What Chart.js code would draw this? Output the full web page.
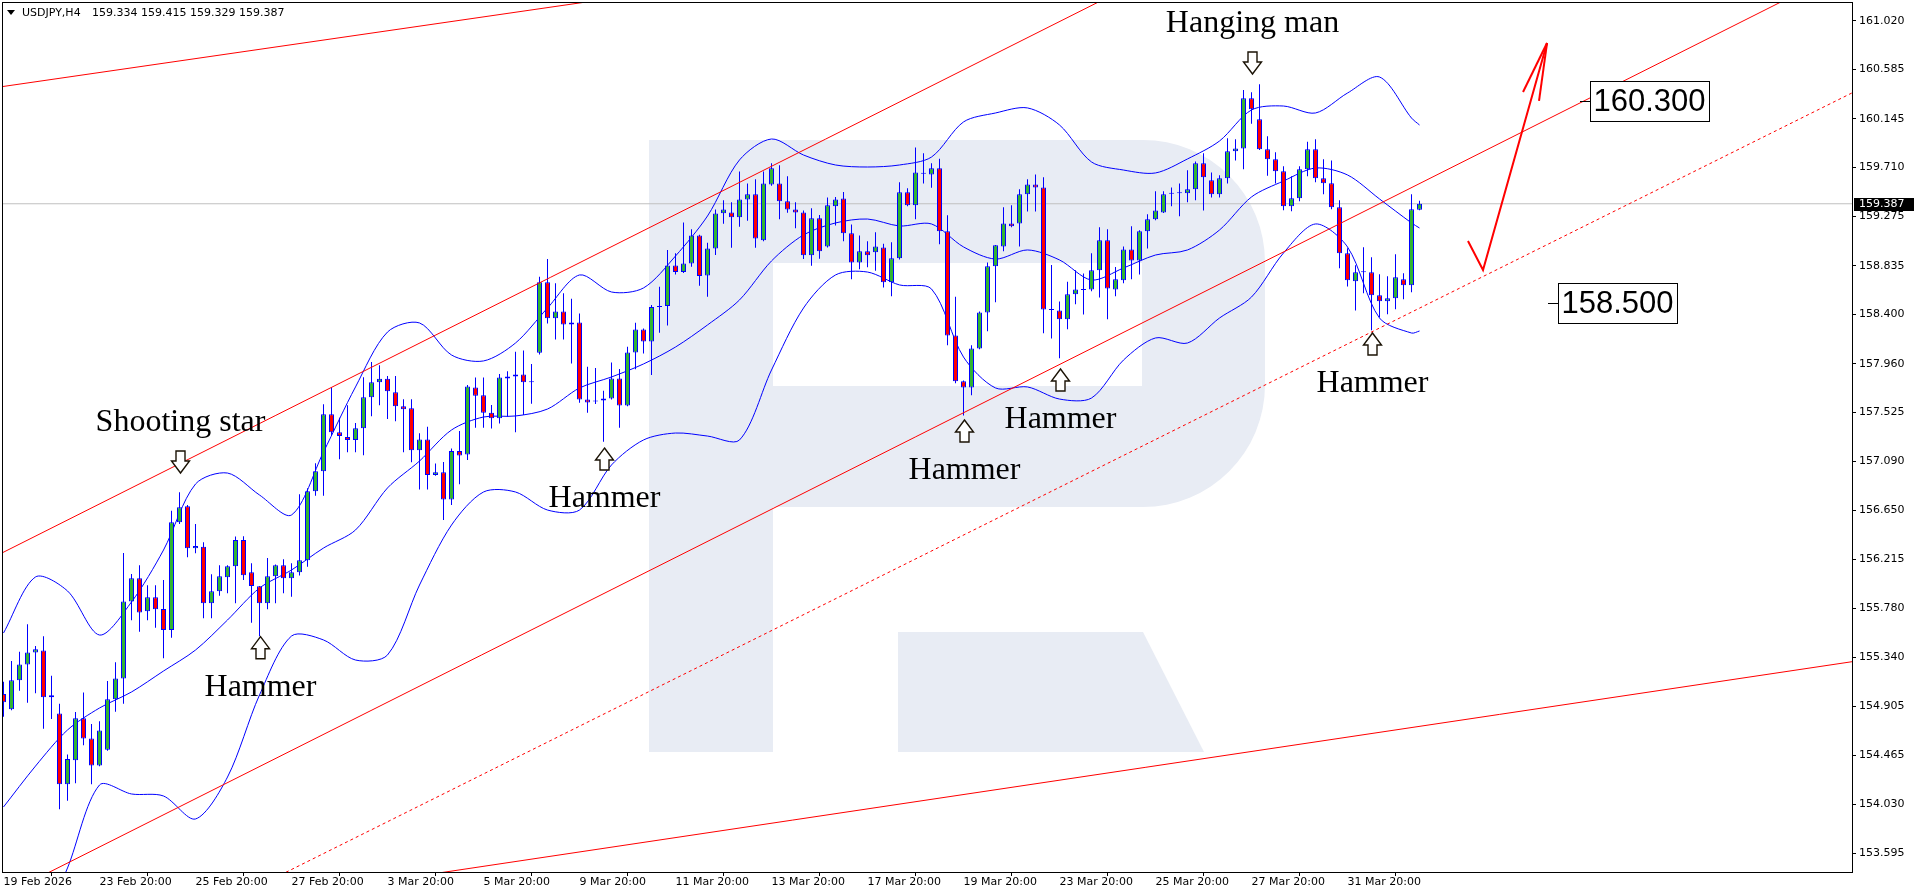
<!DOCTYPE html>
<html>
<head>
<meta charset="utf-8">
<script src="https://cdn.jsdelivr.net/npm/chart.js@4.4.1/dist/chart.umd.min.js"></script>
<style>
  html, body { margin: 0; padding: 0; background: #fff; overflow: hidden; }
  canvas { display: block; }
</style>
</head>
<body>
<canvas id="chart" width="1916" height="896"></canvas>
<script>
// USDJPY H4 candles, Bollinger bands and the hand-drawn channel
const symbol = 'USDJPY,H4';

const opens = [
  155.014,154.877,155.136,155.278,155.385,155.403,154.984,154.841,154.208,154.422,
  154.797,154.618,154.377,154.517,154.966,155.153,155.840,156.046,155.751,155.876,
  155.772,155.585,156.545,156.688,156.313,156.328,155.823,155.930,156.055,156.153,
  156.388,156.099,155.975,155.823,156.064,156.162,156.046,156.099,156.206,156.822,
  157.000,157.509,157.348,157.307,157.280,157.384,157.661,157.794,157.827,157.705,
  157.580,157.563,157.188,157.285,156.967,156.991,156.750,157.181,157.151,157.749,
  157.678,157.523,157.473,157.829,157.847,157.865,157.794,158.058,158.686,158.365,
  158.427,158.311,158.329,157.642,157.624,157.633,157.651,157.829,157.588,158.061,
  158.266,158.159,158.466,158.475,158.837,158.778,158.855,159.105,158.748,158.989,
  159.302,159.310,159.266,159.426,159.471,159.061,159.560,159.569,159.409,159.337,
  159.310,158.927,159.257,159.007,159.364,159.435,159.123,158.864,158.963,158.954,
  158.998,158.686,158.900,159.489,159.373,159.655,159.649,159.703,159.141,158.213,
  157.803,157.749,158.097,158.418,158.829,159.007,159.212,159.212,159.471,159.560,
  159.533,158.445,158.436,158.356,158.579,158.617,158.623,158.793,159.061,158.623,
  158.704,158.980,158.882,159.141,159.248,159.310,159.477,159.480,159.480,159.516,
  159.748,159.596,159.471,159.614,159.855,159.881,160.328,160.141,159.873,159.784,
  159.677,159.364,159.436,159.695,159.873,159.614,159.570,159.356,158.945,158.695,
  158.776,158.776,158.570,158.517,158.544,158.713,158.660,159.334
];
const highs = [
  155.124,155.308,155.391,155.635,155.442,155.528,155.177,154.927,154.475,154.853,
  155.028,154.746,154.770,155.130,155.296,156.272,156.084,156.162,155.983,155.983,
  156.031,156.649,156.813,156.700,156.531,156.367,156.082,156.162,156.162,156.418,
  156.421,156.180,155.977,156.227,156.170,156.215,156.180,156.795,156.849,157.072,
  157.598,157.750,157.479,157.589,157.432,157.839,157.976,157.946,157.851,157.851,
  157.643,157.643,157.339,157.398,157.071,157.083,157.205,157.359,157.770,157.838,
  157.838,157.591,157.868,157.892,158.067,158.079,157.957,158.736,158.894,158.677,
  158.588,158.540,158.409,157.933,157.922,157.719,157.972,157.913,158.112,158.326,
  158.275,158.484,158.647,158.974,158.945,159.221,159.159,159.110,159.040,159.337,
  159.418,159.400,159.676,159.569,159.605,159.676,159.748,159.730,159.632,159.400,
  159.328,159.346,159.287,159.444,159.447,159.492,159.203,159.105,159.052,159.132,
  159.031,159.043,159.578,159.525,159.890,159.837,159.748,159.789,159.284,158.558,
  157.810,158.124,158.425,158.864,159.020,159.355,159.373,159.516,159.605,159.649,
  159.623,158.841,158.516,158.692,158.793,158.766,158.945,159.177,159.159,158.823,
  159.007,159.186,159.150,159.293,159.498,159.498,159.533,159.569,159.685,159.765,
  159.837,159.667,159.641,159.971,159.962,160.402,160.382,160.453,159.989,159.846,
  159.721,159.632,159.721,159.941,159.962,159.784,159.772,159.418,158.990,158.838,
  158.999,158.909,158.758,158.740,158.936,158.767,159.472,159.415
];
const lows = [
  154.811,154.870,155.043,154.936,155.020,154.704,154.791,153.985,154.062,154.217,
  154.556,154.208,154.370,154.508,154.856,154.927,155.671,155.570,155.671,155.605,
  155.332,155.516,156.530,156.233,156.269,155.689,155.689,155.891,155.912,155.823,
  156.031,155.650,155.528,155.769,155.823,155.912,155.882,156.070,156.150,156.783,
  156.783,157.316,157.108,157.170,157.170,157.143,157.491,157.589,157.467,157.447,
  157.170,157.081,156.839,156.839,156.960,156.565,156.699,156.884,157.101,157.389,
  157.389,157.383,157.428,157.487,157.348,157.502,157.603,158.043,158.320,158.177,
  158.177,157.963,157.612,157.523,157.600,157.264,157.642,157.389,157.580,157.910,
  158.052,157.859,158.237,158.302,158.757,158.770,158.826,158.656,158.558,158.930,
  159.209,158.995,159.183,159.236,158.995,159.052,159.548,159.248,159.307,159.168,
  158.894,158.835,158.897,158.998,159.194,159.052,158.713,158.802,158.820,158.790,
  158.641,158.561,158.891,159.364,159.248,159.569,159.530,159.025,158.124,157.785,
  157.499,157.678,158.090,158.249,158.508,158.963,159.177,159.007,159.319,159.319,
  158.231,158.186,158.008,158.267,158.490,158.400,158.606,158.552,158.356,158.561,
  158.677,158.713,158.757,158.989,159.239,159.305,159.364,159.275,159.400,159.418,
  159.328,159.444,159.444,159.569,159.774,159.695,160.102,159.867,159.638,159.567,
  159.329,159.320,159.409,159.632,159.579,159.472,159.338,158.811,158.648,158.434,
  158.588,158.258,158.374,158.401,158.446,158.535,158.597,159.329
];
const closes = [
  154.940,155.136,155.278,155.385,155.412,154.984,155.002,154.208,154.434,154.797,
  154.618,154.377,154.689,154.966,155.153,155.840,156.046,155.742,155.876,155.769,
  155.585,156.545,156.679,156.313,156.334,155.823,155.930,156.064,156.153,156.388,
  156.073,155.977,155.823,156.064,156.162,156.046,156.099,156.206,156.822,157.000,
  157.509,157.348,157.316,157.280,157.384,157.661,157.794,157.827,157.714,157.580,
  157.554,157.188,157.285,156.967,156.991,156.750,157.181,157.142,157.758,157.675,
  157.523,157.473,157.838,157.847,157.865,157.794,157.800,158.686,158.365,158.427,
  158.311,158.329,157.642,157.615,157.627,157.651,157.829,157.588,158.061,158.266,
  158.159,158.466,158.475,158.837,158.778,158.855,159.105,158.742,158.989,159.301,
  159.337,159.266,159.426,159.471,159.078,159.569,159.703,159.409,159.337,159.310,
  158.927,159.257,158.963,159.373,159.426,159.123,158.864,158.963,158.927,159.007,
  158.686,158.900,159.489,159.373,159.667,159.658,159.703,159.141,158.213,157.803,
  157.749,158.097,158.418,158.829,159.016,159.212,159.186,159.471,159.560,159.533,
  158.445,158.439,158.356,158.579,158.623,158.620,158.793,159.061,158.632,158.713,
  158.980,158.882,159.141,159.248,159.328,159.471,159.480,159.483,159.516,159.748,
  159.623,159.471,159.614,159.855,159.881,160.328,160.230,159.873,159.784,159.677,
  159.364,159.436,159.695,159.873,159.614,159.570,159.356,158.945,158.704,158.776,
  158.779,158.570,158.517,158.544,158.731,158.660,159.338,159.387
];

// Bollinger band readings at every fourth bar
const bandIndex = [0,4,8,12,16,20,24,28,32,36,40,44,48,52,56,60,64,68,72,76,80,84,88,92,96,100,104,108,112,116,120,124,128,132,136,140,144,148,152,156,160,164,168,172,176,177];
const upperBand = [155.558,156.058,155.933,155.540,155.835,156.298,156.887,156.985,156.789,156.611,157.173,157.753,158.243,158.324,158.038,157.985,158.145,158.457,158.752,158.600,158.636,158.921,159.278,159.778,159.965,159.822,159.733,159.715,159.733,159.804,160.117,160.197,160.242,160.090,159.760,159.688,159.662,159.787,159.947,160.224,160.259,160.197,160.375,160.518,160.152,160.090];
const middleBand = [154.006,154.371,154.693,154.889,155.032,155.219,155.406,155.674,155.959,156.120,156.316,156.477,156.852,157.092,157.369,157.485,157.494,157.556,157.744,157.842,157.958,158.109,158.306,158.529,158.877,159.109,159.216,159.251,159.189,159.207,159.002,158.894,158.975,158.886,158.707,158.814,158.930,158.975,159.153,159.448,159.590,159.706,159.644,159.430,159.216,159.171];
const lowerBand = [152.284,152.819,153.462,154.202,154.122,154.104,153.899,154.273,155.005,155.531,155.496,155.317,155.362,155.986,156.521,156.816,156.816,156.655,156.655,157.057,157.280,157.342,157.315,157.280,157.904,158.457,158.752,158.778,158.663,158.627,158.020,157.744,157.753,157.645,157.654,157.993,158.190,158.145,158.368,158.555,158.948,159.207,159.002,158.368,158.234,158.252];

// Price and time axis ticks
const priceTicks = [161.020,160.585,160.145,159.710,159.275,158.835,158.400,157.960,157.525,157.090,156.650,156.215,155.780,155.340,154.905,154.465,154.030,153.595];
const timeTickIndex = [0,12,24,36,48,60,72,84,96,108,120,132,144,156,168];
const timeTickLabels = ['19 Feb 2026','23 Feb 20:00','25 Feb 20:00','27 Feb 20:00','3 Mar 20:00','5 Mar 20:00','9 Mar 20:00','11 Mar 20:00','13 Mar 20:00','17 Mar 20:00','19 Mar 20:00','23 Mar 20:00','25 Mar 20:00','27 Mar 20:00','31 Mar 20:00'];

// Trend lines as [bar index, price] end points
const outerLine   = [[-12.94,160.300],[124.56,161.722]];
const channelTop  = [[-6.69,156.039],[149.56,161.642]];
const channelBase = [[-6.69,152.979],[237.06,161.721]];
const supportDots = [[24.56,153.042],[237.06,160.589]];
const longSupport = [[37.06,153.232],[237.06,155.366]];
const forecastPath  = [[183.06,159.055],[184.94,158.796],[192.94,160.821]];
const forecastHeadA = [[189.94,160.384],[192.94,160.821]];
const forecastHeadB = [[191.94,160.304],[192.94,160.821]];

// Target levels and candlestick pattern notes
const levels = [{ price: 160.300, index: 197.06 }, { price: 158.500, index: 193.06 }];
const patterns = [
  { text: 'Shooting star', index: 22,  price: 156.985, dir: 'down' },
  { text: 'Hammer',        index: 32,  price: 155.525, dir: 'up' },
  { text: 'Hammer',        index: 75,  price: 157.208, dir: 'up' },
  { text: 'Hammer',        index: 120, price: 157.458, dir: 'up' },
  { text: 'Hammer',        index: 132, price: 157.913, dir: 'up' },
  { text: 'Hanging man',   index: 156, price: 160.545, dir: 'down' },
  { text: 'Hammer',        index: 171, price: 158.234, dir: 'up' }
];

const BULL = '#32b432', BEAR = '#ff0000', EDGE = '#0000ff', TREND = '#ff0000';
const lastClose = closes[closes.length - 1];

const toPts = arr => arr.map(([x, y]) => ({ x, y }));
const lineDs = (data, extra) => Object.assign({
  type: 'line', data, borderColor: TREND, borderWidth: 1, pointRadius: 0,
  fill: false, tension: 0, order: 2
}, extra);

const bandDs = values => ({
  type: 'line', data: bandIndex.map((x, k) => ({ x, y: values[k] })),
  borderColor: EDGE, borderWidth: 1, pointRadius: 0, fill: false,
  tension: 0.3, order: 8
});

// Logo drawn faintly behind the plot
function drawLogo(ctx) {
  ctx.save();
  ctx.fillStyle = '#e8ecf4';
  ctx.fillRect(649, 140, 124, 612);
  ctx.beginPath();
  ctx.moveTo(773, 140);
  ctx.lineTo(1143, 140);
  ctx.arcTo(1265, 140, 1265, 262, 122);
  ctx.lineTo(1265, 385);
  ctx.arcTo(1265, 507, 1143, 507, 122);
  ctx.lineTo(773, 507);
  ctx.closePath();
  ctx.moveTo(773, 263);
  ctx.lineTo(773, 386);
  ctx.lineTo(1142, 386);
  ctx.lineTo(1142, 263);
  ctx.closePath();
  ctx.fill('evenodd');
  ctx.beginPath();
  ctx.moveTo(898, 632);
  ctx.lineTo(1143, 632);
  ctx.lineTo(1204, 752);
  ctx.lineTo(898, 752);
  ctx.closePath();
  ctx.fill();
  ctx.restore();
}

function drawHollowArrow(ctx, cx, tipY, dir) {
  const s = dir === 'up' ? 1 : -1;
  ctx.beginPath();
  ctx.moveTo(cx, tipY);
  ctx.lineTo(cx + 9, tipY + s * 12);
  ctx.lineTo(cx + 4.5, tipY + s * 12);
  ctx.lineTo(cx + 4.5, tipY + s * 22);
  ctx.lineTo(cx - 4.5, tipY + s * 22);
  ctx.lineTo(cx - 4.5, tipY + s * 12);
  ctx.lineTo(cx - 9, tipY + s * 12);
  ctx.closePath();
  ctx.fillStyle = '#ffffff';
  ctx.fill();
  ctx.lineWidth = 1.4;
  ctx.strokeStyle = '#1a1205';
  ctx.stroke();
}

const decorations = {
  id: 'decorations',
  beforeDraw(chart) {
    const ctx = chart.ctx;
    ctx.save();
    ctx.fillStyle = '#ffffff';
    ctx.fillRect(0, 0, chart.width, chart.height);
    ctx.restore();
  },
  beforeDatasetsDraw(chart) {
    const { ctx, chartArea: a } = chart;
    ctx.save();
    ctx.beginPath();
    ctx.rect(a.left, a.top, a.right - a.left, a.bottom - a.top);
    ctx.clip();
    drawLogo(ctx);
    ctx.restore();
  },
  afterDatasetsDraw(chart) {
    const { ctx, chartArea: a, scales: { x, y } } = chart;
    ctx.save();

    // pattern notes
    ctx.font = '32px "Liberation Serif"';
    ctx.textAlign = 'center';
    ctx.textBaseline = 'alphabetic';
    patterns.forEach(p => {
      const cx = Math.round(x.getPixelForValue(p.index)) + 0.5;
      const tip = y.getPixelForValue(p.price);
      drawHollowArrow(ctx, cx, tip, p.dir);
      ctx.fillStyle = '#000000';
      const base = p.dir === 'up' ? tip + 59 : tip - 42;
      ctx.fillText(p.text, cx, base);
    });

    // target level boxes
    ctx.font = '31px "Liberation Sans"';
    levels.forEach(l => {
      const py = Math.round(y.getPixelForValue(l.price)) + 0.5;
      const x0 = Math.round(x.getPixelForValue(l.index));
      ctx.strokeStyle = '#000000';
      ctx.lineWidth = 1;
      ctx.beginPath();
      ctx.moveTo(x0, py);
      ctx.lineTo(x0 + 10, py);
      ctx.stroke();
      const label = l.price.toFixed(3);
      const w = 119, h = 40;
      ctx.fillStyle = '#ffffff';
      ctx.fillRect(x0 + 10, py - 20, w, h);
      ctx.strokeRect(x0 + 10.5, py - 20, w, h);
      ctx.fillStyle = '#000000';
      ctx.textAlign = 'center';
      ctx.textBaseline = 'middle';
      ctx.fillText(label, x0 + 10 + w / 2, py + 1);
    });

    // chart frame
    ctx.strokeStyle = '#000000';
    ctx.lineWidth = 1;
    ctx.strokeRect(a.left + 0.5, a.top + 0.5, a.right - a.left, a.bottom - a.top);

    // symbol header with the last bar's OHLC
    const n = closes.length - 1;
    ctx.fillStyle = '#000000';
    ctx.font = '11px "DejaVu Sans"';
    ctx.textAlign = 'left';
    ctx.textBaseline = 'middle';
    ctx.beginPath();
    ctx.moveTo(7, 10); ctx.lineTo(15, 10); ctx.lineTo(11, 15); ctx.closePath();
    ctx.fill();
    ctx.fillText(symbol, 22, 13);
    ctx.fillText([opens[n], highs[n], lows[n], closes[n]].map(v => v.toFixed(3)).join(' '), 92, 13);

    // last price marker on the price axis
    const ly = Math.round(y.getPixelForValue(lastClose));
    ctx.fillStyle = '#000000';
    ctx.fillRect(a.right + 2, ly - 6, 60, 13);
    ctx.fillStyle = '#ffffff';
    ctx.fillText(lastClose.toFixed(3), a.right + 7, ly + 0.5);
    ctx.restore();
  }
};

Chart.defaults.font.family = '"DejaVu Sans"';
Chart.defaults.font.size = 11;
Chart.defaults.color = '#000000';

new Chart(document.getElementById('chart'), {
  type: 'bar',
  data: {
    datasets: [
      // candle bodies
      {
        type: 'bar',
        data: opens.map((o, i) => ({ x: i, y: [o, closes[i]] })),
        backgroundColor: opens.map((o, i) => closes[i] >= o ? BULL : BEAR),
        borderColor: EDGE, borderWidth: 1, borderSkipped: false,
        barThickness: 5, grouped: false, inflateAmount: 0, minBarLength: 1, order: 4
      },
      // candle wicks
      {
        type: 'bar',
        data: highs.map((h, i) => ({ x: i, y: [lows[i], h] })),
        backgroundColor: EDGE, borderWidth: 0,
        barThickness: 1, grouped: false, inflateAmount: 0, order: 5
      },
      bandDs(upperBand),
      bandDs(middleBand),
      bandDs(lowerBand),
      // last price line
      lineDs([{ x: -2, y: lastClose }, { x: 240, y: lastClose }], { borderColor: '#c0c0c0', order: 9 }),
      lineDs(toPts(outerLine)),
      lineDs(toPts(channelTop)),
      lineDs(toPts(channelBase)),
      lineDs(toPts(supportDots), { borderDash: [3, 3] }),
      lineDs(toPts(longSupport)),
      lineDs(toPts(forecastPath), { borderWidth: 2, order: 1 }),
      lineDs(toPts(forecastHeadA), { borderWidth: 2, order: 1 }),
      lineDs(toPts(forecastHeadB), { borderWidth: 2, order: 1 })
    ]
  },
  options: {
    responsive: false,
    animation: false,
    events: [],
    layout: { padding: { left: 2, top: 2, right: 0, bottom: 0 } },
    plugins: { legend: { display: false }, tooltip: { enabled: false }, title: { display: false } },
    scales: {
      x: {
        type: 'linear', position: 'bottom',
        min: -0.1875, max: 231.0625, offset: false,
        afterBuildTicks: s => { s.ticks = timeTickIndex.map(v => ({ value: v })); },
        afterFit: s => { s.height = 24; s.paddingLeft = 0; s.paddingRight = 0; },
        grid: { drawOnChartArea: false, drawTicks: true, tickLength: 4, color: '#000000' },
        border: { display: false },
        ticks: {
          align: 'start', maxRotation: 0, autoSkip: false, padding: 0,
          callback: (v, i) => timeTickLabels[i]
        }
      },
      y: {
        type: 'linear', position: 'right',
        min: 153.426, max: 161.187,
        afterBuildTicks: s => { s.ticks = priceTicks.map(v => ({ value: v })); },
        afterFit: s => { s.width = 64; s.paddingTop = 0; s.paddingBottom = 0; },
        grid: { drawOnChartArea: false, drawTicks: true, tickLength: 4, color: '#000000' },
        border: { display: false },
        ticks: { autoSkip: false, padding: 3, callback: v => v.toFixed(3) }
      }
    }
  },
  plugins: [decorations]
});
</script>
</body>
</html>
